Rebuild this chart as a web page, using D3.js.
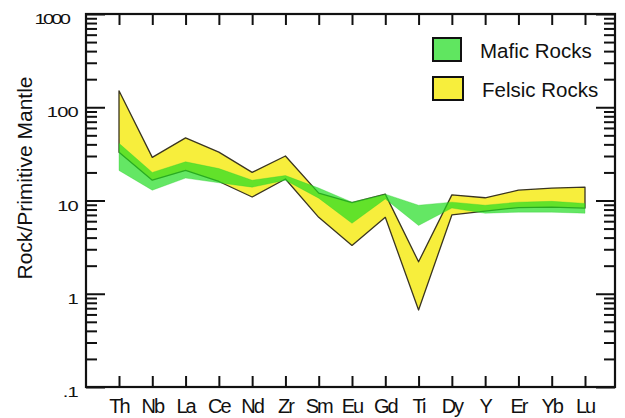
<!DOCTYPE html>
<html><head><meta charset="utf-8">
<script src="https://cdn.jsdelivr.net/npm/d3@7"></script>
<style>
html,body{margin:0;padding:0;background:#fff;}
svg text{font-family:"Liberation Sans",Arial,Helvetica,sans-serif;fill:#111;}
</style></head>
<body><svg id="c" width="625" height="418"></svg>
<script>
const elements = ["Th","Nb","La","Ce","Nd","Zr","Sm","Eu","Gd","Ti","Dy","Y","Er","Yb","Lu"];
const felsicTop    = [150, 29, 47, 33, 20, 30, 12, 9.5, 11.7, 2.2, 11.5, 10.7, 12.9, 13.6, 13.9];
const felsicBottom = [33, 16.5, 21, 16, 10.9, 17, 6.6, 3.3, 6.6, 0.67, 7.0, 7.7, 8.4, 8.5, 8.3];
const maficTop     = [41, 20, 26, 22, 16.5, 18.5, 13.6, 9.6, 11.7, 8.9, 9.6, 8.9, 9.6, 9.8, 9.3];
const maficBottom  = [21, 12.9, 17.4, 15.5, 13.9, 16.5, 10.6, 5.7, 10.4, 5.4, 8.3, 7.3, 7.5, 7.5, 7.3];
const yTickValues = [0.1, 1, 10, 100, 1000];
const yTickLabels = [".1", "1", "10", "100", "1000"];
const legendLabels = ["Mafic Rocks", "Felsic Rocks"];
const yTitle = "Rock/Primitive Mantle";

const svg = d3.select("#c");
const L = 86, R = 615, T = 14, B = 387;
const x = d3.scalePoint().domain(elements).range([119, 585]);
const y = d3.scaleLog().domain([0.1, 1000]).range([B, T]);

const yellow = "#f7ee3c", green = "#22dd22";

function band(top, bot) {
  return d3.area().x((d,i)=>x(elements[i])).y0((d,i)=>y(bot[i])).y1((d,i)=>y(top[i]))(top);
}
svg.append("path").attr("d", band(felsicTop, felsicBottom))
  .attr("fill", yellow).attr("stroke", "#3a3520").attr("stroke-width", 1.3).attr("stroke-linejoin","round");
svg.append("path").attr("d", band(maficTop, maficBottom))
  .attr("fill", green).attr("fill-opacity", 0.7).attr("stroke", "#2ecc2e").attr("stroke-opacity",0.4).attr("stroke-width", 0.8);

const minor = [];
for (let e = -1; e < 3; e++) for (let m = 2; m <= 9; m++) minor.push(m * Math.pow(10, e));

const gl = svg.append("g").attr("transform", `translate(${L},0)`);
gl.call(d3.axisRight(y).tickValues(minor).tickSize(11).tickFormat(""));
gl.append("g").call(d3.axisRight(y).tickValues(yTickValues).tickSize(19).tickFormat(""));
const gr = svg.append("g").attr("transform", `translate(${R},0)`);
gr.call(d3.axisLeft(y).tickValues(minor).tickSize(11).tickFormat(""));
gr.append("g").call(d3.axisLeft(y).tickValues(yTickValues).tickSize(19).tickFormat(""));
const gb = svg.append("g").attr("transform", `translate(0,${B})`);
gb.call(d3.axisTop(x).tickSize(11).tickFormat(""));
const gt = svg.append("g").attr("transform", `translate(0,${T})`);
gt.call(d3.axisBottom(x).tickSize(11).tickFormat(""));
svg.selectAll(".domain").remove();
svg.selectAll(".tick line").attr("stroke", "#111").attr("stroke-width", 2);

svg.append("rect").attr("x", L).attr("y", T).attr("width", R - L).attr("height", B - T)
  .attr("fill", "none").attr("stroke", "#111").attr("stroke-width", 2.2);

// y tick labels (wide, slightly lowered glyphs as in the reference)
svg.selectAll("text.yl").data(yTickValues).enter().append("text")
  .attr("transform", d => `translate(${d === 1000 ? 68 : 78},${y(d) + 10}) scale(1.3,1)`)
  .attr("text-anchor", "end").attr("font-size", 15.5)
  .attr("letter-spacing", (d) => d === 1000 ? "-2.2px" : "-0.6px")
  .text((d,i) => yTickLabels[i]);

// x labels
svg.selectAll("text.xl").data(elements).enter().append("text")
  .attr("x", d => x(d)).attr("y", 413).attr("text-anchor", "middle")
  .attr("font-size", 20).attr("letter-spacing", "-2px").text(d => d);

// y title
svg.append("text").attr("transform", "translate(32,178) rotate(-90)")
  .attr("text-anchor", "middle").attr("font-size", 21).text(yTitle);

// legend
const leg = [{c: green, o: 0.72, y: 38, w: 28}, {c: yellow, o: 1, y: 77, w: 30}];
leg.forEach((d, i) => {
  svg.append("rect").attr("x", 433).attr("y", d.y).attr("width", d.w).attr("height", 23)
    .attr("fill", d.c).attr("fill-opacity", d.o).attr("stroke", "#111").attr("stroke-width", 2);
  svg.append("text").attr("x", 480 + i * 2).attr("y", d.y + 20).attr("font-size", 20.5).text(legendLabels[i]);
});
</script></body></html>
